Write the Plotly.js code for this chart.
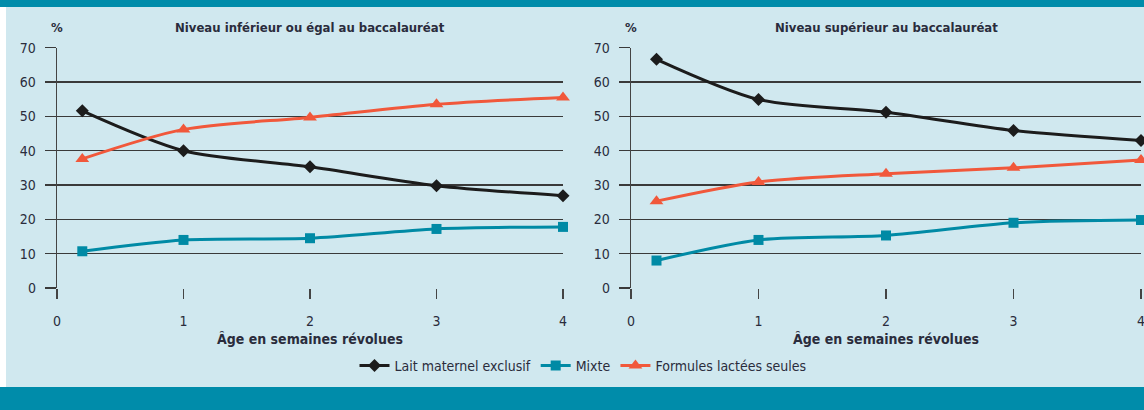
<!DOCTYPE html>
<html>
<head>
<meta charset="utf-8">
<script src="https://cdn.plot.ly/plotly-3.0.1.min.js"></script>
<style>html,body{margin:0;padding:0;background:#d0e8ef;}#chart{width:1144px;height:410px;}</style>
</head>
<body>
<div id="chart"></div>
<script>
const ages = [0.2, 1, 2, 3, 4];
const xTicks = [0, 1, 2, 3, 4];
const yTicks = [0, 10, 20, 30, 40, 50, 60, 70];
const seriesNames = ["Lait maternel exclusif", "Mixte", "Formules lactées seules"];
const panelTitles = ["Niveau inférieur ou égal au baccalauréat", "Niveau supérieur au baccalauréat"];
const xTitle = "Âge en semaines révolues";
const yUnit = "%";

// Niveau inférieur ou égal au baccalauréat
const lowLait = [51.6, 40.0, 35.3, 29.8, 26.9];
const lowMixte = [10.7, 14.0, 14.5, 17.2, 17.8];
const lowFormules = [37.6, 46.2, 49.7, 53.5, 55.5];
// Niveau supérieur au baccalauréat
const highLait = [66.6, 54.9, 51.2, 45.9, 43.0];
const highMixte = [8.0, 14.0, 15.3, 19.0, 19.8];
const highFormules = [25.3, 30.9, 33.3, 35.0, 37.3];

const colors = ["#1c1c1c", "#008aa5", "#f1583b"];
const symbols = ["diamond", "square", "triangle-up"];
const sizes = [10, 10, 12];
const font = "'Liberation Sans Narrow', 'DejaVu Sans Condensed', 'Roboto Condensed', sans-serif";
const textColor = "#2a2c3c";

function mk(y, i, xa, ya, show) {
  return {
    x: ages, y: y, type: "scatter", mode: "lines+markers",
    name: seriesNames[i], showlegend: show, xaxis: xa, yaxis: ya, cliponaxis: false,
    line: {color: colors[i], width: 3, shape: "spline", smoothing: 0.8},
    marker: {color: colors[i], symbol: symbols[i], size: sizes[i]}
  };
}

const data = [
  mk(lowLait, 0, "x", "y", true), mk(lowMixte, 1, "x", "y", true), mk(lowFormules, 2, "x", "y", true),
  mk(highLait, 0, "x2", "y2", false), mk(highMixte, 1, "x2", "y2", false), mk(highFormules, 2, "x2", "y2", false)
];

const W = 1144, H = 410;
const yDom = [1 - 288 / H, 1 - 47.7 / H];

function xax(d0, d1, anchor) {
  return {
    domain: [d0 / W, d1 / W], anchor: anchor, range: [0, 4], tickvals: xTicks,
    showgrid: false, zeroline: false, showline: false,
    ticks: "outside", ticklen: 10, tickwidth: 1.3, tickcolor: "#444",
    ticklabelstandoff: 10, ticklabeloverflow: "allow",
    tickfont: {family: font, size: 14, color: textColor},
    title: {text: xTitle, font: {family: font, size: 14, color: textColor, weight: "bold"}, standoff: 6},
    fixedrange: true
  };
}
function yax(anchor) {
  return {
    domain: yDom, anchor: anchor, range: [0, 70], tickvals: yTicks,
    showgrid: true, gridcolor: "#3a3a3a", gridwidth: 1.3,
    zeroline: false, showline: true, linecolor: "#444", linewidth: 1.3,
    ticks: "outside", ticklen: 11, tickwidth: 1.3, tickcolor: "#3a3a3a",
    ticklabelstandoff: 6,
    tickfont: {family: font, size: 14, color: textColor}, fixedrange: true
  };
}

const layout = {
  width: W, height: H,
  margin: {l: 0, r: 0, t: 0, b: 0},
  paper_bgcolor: "#d0e8ef", plot_bgcolor: "rgba(0,0,0,0)",
  font: {family: font, color: textColor},
  xaxis: xax(57, 563, "y"), yaxis: yax("x"),
  xaxis2: xax(631, 1141, "y2"), yaxis2: yax("x2"),
  showlegend: true,
  legend: {orientation: "h", x: 583 / W, xanchor: "center", y: 1 - 366 / H, yanchor: "middle",
           font: {family: font, size: 14, color: textColor}, bgcolor: "rgba(0,0,0,0)", itemwidth: 30},
  shapes: [
    {type: "rect", xref: "paper", yref: "paper", x0: 0, x1: 1, y0: 1 - 7 / H, y1: 1, fillcolor: "#008caa", line: {width: 0}, layer: "below"},
    {type: "rect", xref: "paper", yref: "paper", x0: 0, x1: 1, y0: 0, y1: 1 - 387 / H, fillcolor: "#008caa", line: {width: 0}, layer: "below"},
    {type: "rect", xref: "paper", yref: "paper", x0: 0, x1: 6 / W, y0: 1 - 387 / H, y1: 1 - 7 / H, fillcolor: "#ffffff", line: {width: 0}, layer: "below"}
  ],
  annotations: [
    {text: yUnit, xref: "paper", yref: "paper", x: 57 / W, y: 1 - 27 / H, xanchor: "center", yanchor: "middle", showarrow: false,
     font: {family: font, size: 13, color: textColor, weight: "bold"}},
    {text: yUnit, xref: "paper", yref: "paper", x: 631 / W, y: 1 - 27 / H, xanchor: "center", yanchor: "middle", showarrow: false,
     font: {family: font, size: 13, color: textColor, weight: "bold"}},
    {text: panelTitles[0], xref: "paper", yref: "paper", x: 310 / W, y: 1 - 27 / H, xanchor: "center", yanchor: "middle", showarrow: false,
     font: {family: font, size: 13, color: textColor, weight: "bold"}},
    {text: panelTitles[1], xref: "paper", yref: "paper", x: 886 / W, y: 1 - 27 / H, xanchor: "center", yanchor: "middle", showarrow: false,
     font: {family: font, size: 13, color: textColor, weight: "bold"}}
  ]
};

Plotly.newPlot("chart", data, layout, {displayModeBar: false, staticPlot: true});
</script>
</body>
</html>
